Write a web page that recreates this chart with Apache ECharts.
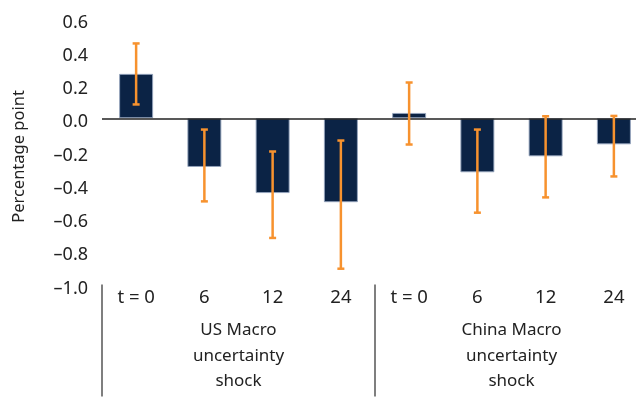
<!DOCTYPE html>
<html><head><meta charset="utf-8">
<script src="https://cdn.jsdelivr.net/npm/echarts@6/dist/echarts.min.js"></script>
<style>html,body{margin:0;padding:0;background:#fff;overflow:hidden;width:636px;height:408px}#c{width:660px;height:408px}</style>
</head><body><div id="c"></div>
<script>
var categories = ['t = 0', '6', '12', '24', 't = 0 ', '6 ', '12 ', '24 '];
var groups = ['US Macro\nuncertainty\nshock', 'China Macro\nuncertainty\nshock'];
var values = [0.267, -0.293, -0.45, -0.505, 0.032, -0.325, -0.229, -0.157];
var errHigh = [0.45, -0.068, -0.20, -0.134, 0.215, -0.068, 0.012, 0.014];
var errLow = [0.083, -0.50, -0.72, -0.905, -0.158, -0.568, -0.476, -0.35];
var yTicks = {min: -1, max: 0.6, step: 0.2};

var font = 'Noto Sans';
var chart = echarts.init(document.getElementById('c'), null, {renderer: 'canvas'});
var errData = categories.map(function (c, i) { return [i, errLow[i], errHigh[i]]; });
chart.setOption({
  animation: false,
  grid: {left: 102, width: 546, top: 18.5, height: 266, containLabel: false, outerBoundsMode: 'none'},
  xAxis: [{
    type: 'category', data: categories, position: 'bottom',
    axisLine: {show: false}, axisTick: {show: false},
    axisLabel: {color: '#222', fontFamily: font, fontSize: 18.5, margin: 4,
      formatter: function (v) { return v.trim(); }}
  }, {
    type: 'category', data: groups, position: 'bottom', offset: 0,
    axisLine: {show: false},
    axisTick: {show: true, length: 112, lineStyle: {color: '#555', width: 1.5}},
    axisLabel: {color: '#222', fontFamily: font, fontSize: 17, lineHeight: 25.5, margin: 33}
  }],
  yAxis: {
    type: 'value', min: yTicks.min, max: yTicks.max, interval: yTicks.step,
    name: 'Percentage point', nameLocation: 'middle', nameGap: 74,
    nameTextStyle: {color: '#222', fontFamily: font, fontSize: 16.5, padding: [0, 10, 0, 0]},
    axisLine: {show: false}, axisTick: {show: false}, splitLine: {show: false},
    axisLabel: {margin: 14,
      formatter: function (v) { return '{a|' + v.toFixed(1).replace('-', '\u2013') + '}'; },
      rich: {a: {color: '#222', fontFamily: font, fontSize: 18, padding: [8, 0, 0, 0]}}}
  },
  series: [{
    type: 'bar', data: values, barWidth: 34,
    itemStyle: {color: '#0b2345', borderColor: 'rgba(150,165,190,0.9)', borderWidth: 1},
    markLine: {silent: true, symbol: 'none', label: {show: false},
      lineStyle: {color: '#222', type: 'solid', width: 1.5},
      data: [{yAxis: 0}]}
  }, {
    type: 'custom', data: errData, z: 5,
    renderItem: function (params, api) {
      var x = api.value(0);
      var lo = api.coord([x, api.value(1)]);
      var hi = api.coord([x, api.value(2)]);
      var hw = 3.5;
      var st = {stroke: '#f7922e', lineWidth: 2.5};
      return {type: 'group', children: [
        {type: 'line', shape: {x1: lo[0], y1: lo[1], x2: hi[0], y2: hi[1]}, style: st},
        {type: 'line', shape: {x1: lo[0] - hw, y1: lo[1], x2: lo[0] + hw, y2: lo[1]}, style: st},
        {type: 'line', shape: {x1: hi[0] - hw, y1: hi[1], x2: hi[0] + hw, y2: hi[1]}, style: st}
      ]};
    }
  }]
});
</script></body></html>
